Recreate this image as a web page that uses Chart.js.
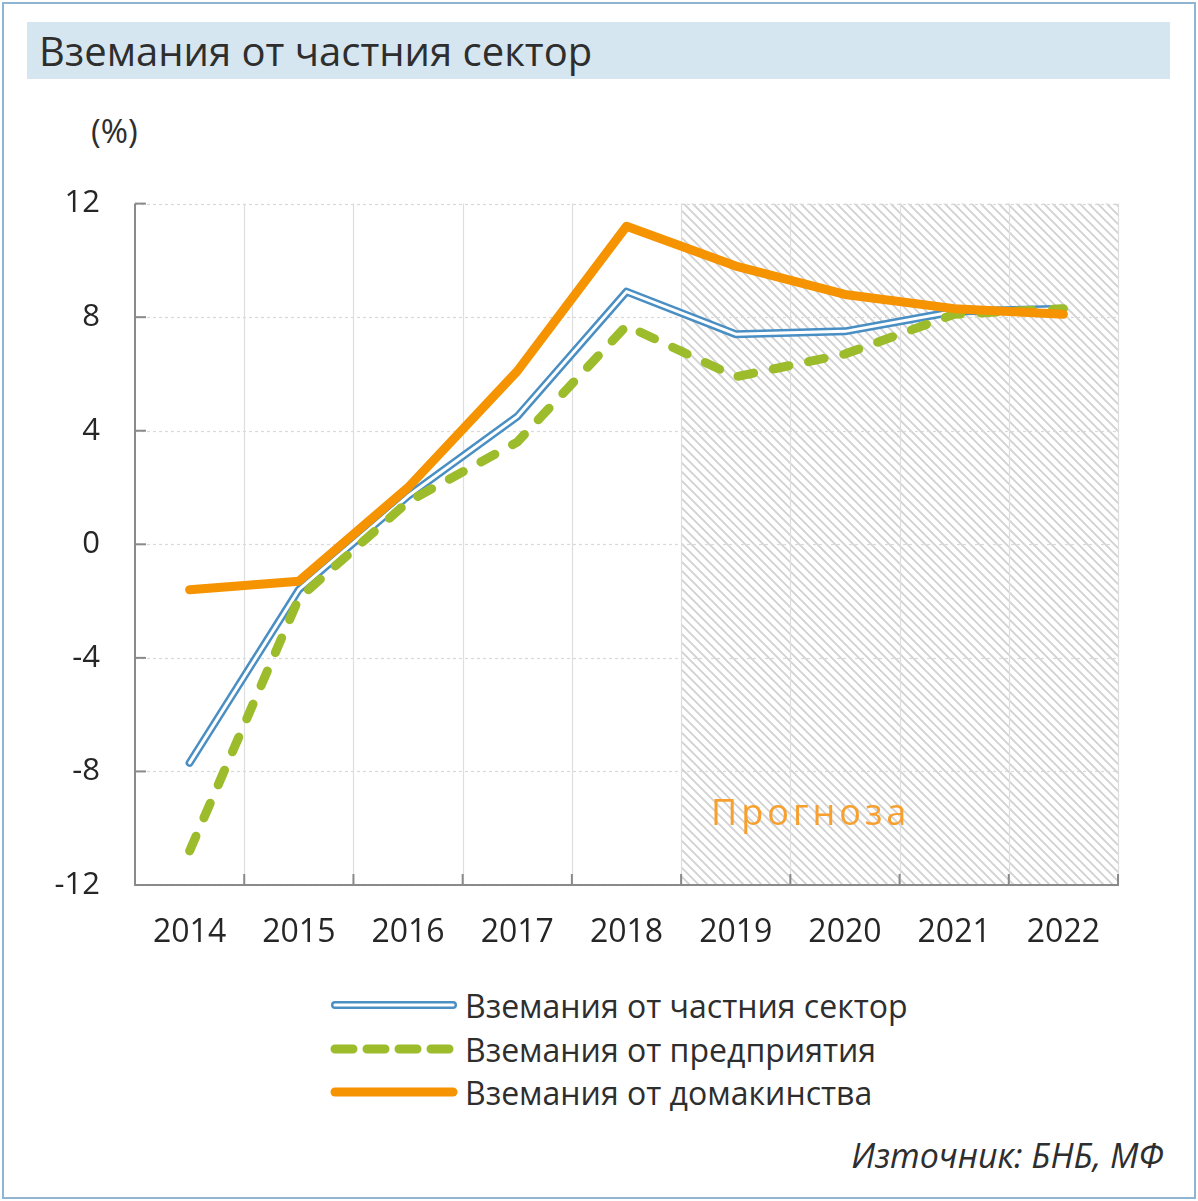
<!DOCTYPE html>
<html><head><meta charset="utf-8">
<script src="https://cdn.jsdelivr.net/npm/chart.js@4"></script>
<style>
html,body{margin:0;padding:0;background:#fff;}
body{width:1198px;height:1201px;position:relative;overflow:hidden;font-family:"Open Sans",sans-serif;color:#2b2b2b;}
#frame{position:absolute;left:2px;top:2px;width:1194px;height:1197px;box-sizing:border-box;border:2px solid #8fb5d3;}
#title{position:absolute;left:27px;top:22px;width:1143px;height:57px;background:#d6e6f0;box-sizing:border-box;padding-left:12px;font-size:40px;line-height:57px;color:#2e2e2e;white-space:nowrap;}
#unit{position:absolute;left:91px;top:108px;font-size:33px;color:#2e2e2e;}
#wrap{position:absolute;left:0;top:150px;width:1198px;height:805px;}
.leg{position:absolute;left:330px;height:40px;display:flex;align-items:center;font-size:32px;color:#2e2e2e;white-space:nowrap;}
.leg svg{margin-right:7px;}
#src{position:absolute;right:34px;top:1132px;font-size:34px;font-style:italic;color:#2e2e2e;}
</style></head>
<body>
<div id="frame"></div>
<div id="title">Вземания от частния сектор</div>
<div id="unit">(%)</div>
<div id="wrap"><canvas id="c" width="1198" height="805"></canvas></div>
<div class="leg" style="top:985px"><svg width="128" height="14"><line x1="5" y1="7" x2="123" y2="7" stroke="#4a8fc4" stroke-width="8" stroke-linecap="round"/><line x1="5" y1="7" x2="123" y2="7" stroke="#fff" stroke-width="3.2" stroke-linecap="round"/></svg><span id="l0"></span></div>
<div class="leg" style="top:1029px"><svg width="128" height="14"><line x1="5" y1="7" x2="123" y2="7" stroke="#9cbc2c" stroke-width="9" stroke-linecap="round" stroke-dasharray="18 14"/></svg><span id="l1"></span></div>
<div class="leg" style="top:1072px"><svg width="128" height="14"><line x1="5" y1="7" x2="123" y2="7" stroke="#f59300" stroke-width="9" stroke-linecap="round"/></svg><span id="l2"></span></div>
<div id="src">Източник: БНБ, МФ</div>
<script>
const years = ['2014','2015','2016','2017','2018','2019','2020','2021','2022'];
const privateSector = [-7.7, -1.6, 1.7, 4.5, 8.9, 7.4, 7.5, 8.2, 8.3];
const enterprises   = [-10.8, -1.9, 1.5, 3.6, 7.7, 5.9, 6.7, 8.1, 8.3];
const households    = [-1.6, -1.3, 2.0, 6.1, 11.2, 9.8, 8.8, 8.3, 8.1];
const seriesNames = ['Вземания от частния сектор','Вземания от предприятия','Вземания от домакинства'];
const yTicks = [-12, -8, -4, 0, 4, 8, 12];
const forecastStart = 5; // index of first forecast year
const forecastLabel = 'Прогноза';

document.getElementById('l0').textContent = seriesNames[0];
document.getElementById('l1').textContent = seriesNames[1];
document.getElementById('l2').textContent = seriesNames[2];

const FONT = '"Open Sans", sans-serif';

const decor = {
  id: 'decor',
  beforeDatasetsDraw(chart) {
    const {ctx, chartArea: a, scales: {x, y}} = chart;
    const half = (x.getPixelForValue(1) - x.getPixelForValue(0)) / 2;
    const fx = x.getPixelForValue(forecastStart) - half;
    // hatch
    const pc = document.createElement('canvas');
    pc.width = 9; pc.height = 9;
    const p = pc.getContext('2d');
    p.strokeStyle = '#d2d2d2'; p.lineWidth = 1.9;
    p.beginPath();
    p.moveTo(-2, -2); p.lineTo(11, 11);
    p.moveTo(-2, 7); p.lineTo(2, 11);
    p.moveTo(7, -2); p.lineTo(11, 2);
    p.stroke();
    ctx.save();
    ctx.fillStyle = ctx.createPattern(pc, 'repeat');
    ctx.fillRect(fx, a.top, a.right - fx, a.bottom - a.top);
    ctx.restore();
    // grid
    ctx.save();
    ctx.strokeStyle = '#d9d9d9'; ctx.lineWidth = 1.2;
    ctx.setLineDash([3, 3]);
    yTicks.forEach(v => {
      const py = Math.round(y.getPixelForValue(v)) + 0.5;
      ctx.beginPath(); ctx.moveTo(a.left, py); ctx.lineTo(a.right, py); ctx.stroke();
    });
    ctx.setLineDash([]);
    ctx.strokeStyle = '#dedede';
    for (let i = 0; i < years.length; i++) {
      const px = Math.round(x.getPixelForValue(i) + half) + 0.5;
      ctx.beginPath(); ctx.moveTo(px, a.top); ctx.lineTo(px, a.bottom); ctx.stroke();
    }
    // axes
    ctx.strokeStyle = '#8a8a8a'; ctx.lineWidth = 2;
    ctx.beginPath(); ctx.moveTo(a.left, a.top); ctx.lineTo(a.left, a.bottom); ctx.lineTo(a.right + 1, a.bottom); ctx.stroke();
    // inward ticks
    yTicks.forEach(v => {
      const py = y.getPixelForValue(v);
      ctx.beginPath(); ctx.moveTo(a.left, py); ctx.lineTo(a.left + 11, py); ctx.stroke();
    });
    for (let i = 0; i < years.length; i++) {
      const px = x.getPixelForValue(i) + half;
      ctx.beginPath(); ctx.moveTo(px, a.bottom); ctx.lineTo(px, a.bottom - 11); ctx.stroke();
    }
    // forecast label
    ctx.fillStyle = '#f7a030';
    ctx.font = '36px ' + FONT;
    ctx.letterSpacing = '4px';
    ctx.textBaseline = 'alphabetic';
    ctx.fillText(forecastLabel, fx + 30, y.getPixelForValue(-9.9));
    ctx.restore();
  }
};

new Chart(document.getElementById('c'), {
  type: 'line',
  data: {
    labels: years,
    datasets: [
      {label: seriesNames[0], data: privateSector, borderColor: '#4a8fc4', borderWidth: 8, order: 4},
      {label: seriesNames[0] + ' ', data: privateSector, borderColor: '#ffffff', borderWidth: 3, order: 3},
      {label: seriesNames[1], data: enterprises, borderColor: '#9cbc2c', borderWidth: 9, borderDash: [16, 20], order: 2},
      {label: seriesNames[2], data: households, borderColor: '#f59300', borderWidth: 9, order: 1}
    ]
  },
  options: {
    responsive: false,
    devicePixelRatio: 1,
    animation: false,
    layout: {padding: {left: 0, right: 80, top: 53, bottom: 0}},
    elements: {
      line: {tension: 0, borderCapStyle: 'round', borderJoinStyle: 'round', fill: false},
      point: {radius: 0, hoverRadius: 0}
    },
    plugins: {legend: {display: false}, tooltip: {enabled: false}},
    scales: {
      x: {
        offset: true,
        grid: {display: false, drawTicks: false},
        border: {display: false},
        ticks: {color: '#262626', font: {family: FONT, size: 32}, padding: 29, maxRotation: 0},
        afterFit(s) { s.height = 70; }
      },
      y: {
        min: -12, max: 12,
        afterBuildTicks(s) { s.ticks = yTicks.map(v => ({value: v})); },
        grid: {display: false, drawTicks: false},
        border: {display: false},
        ticks: {color: '#262626', font: {family: FONT, size: 31}, padding: 35},
        afterFit(s) { s.width = 135; }
      }
    }
  },
  plugins: [decor]
});
</script>
</body></html>
